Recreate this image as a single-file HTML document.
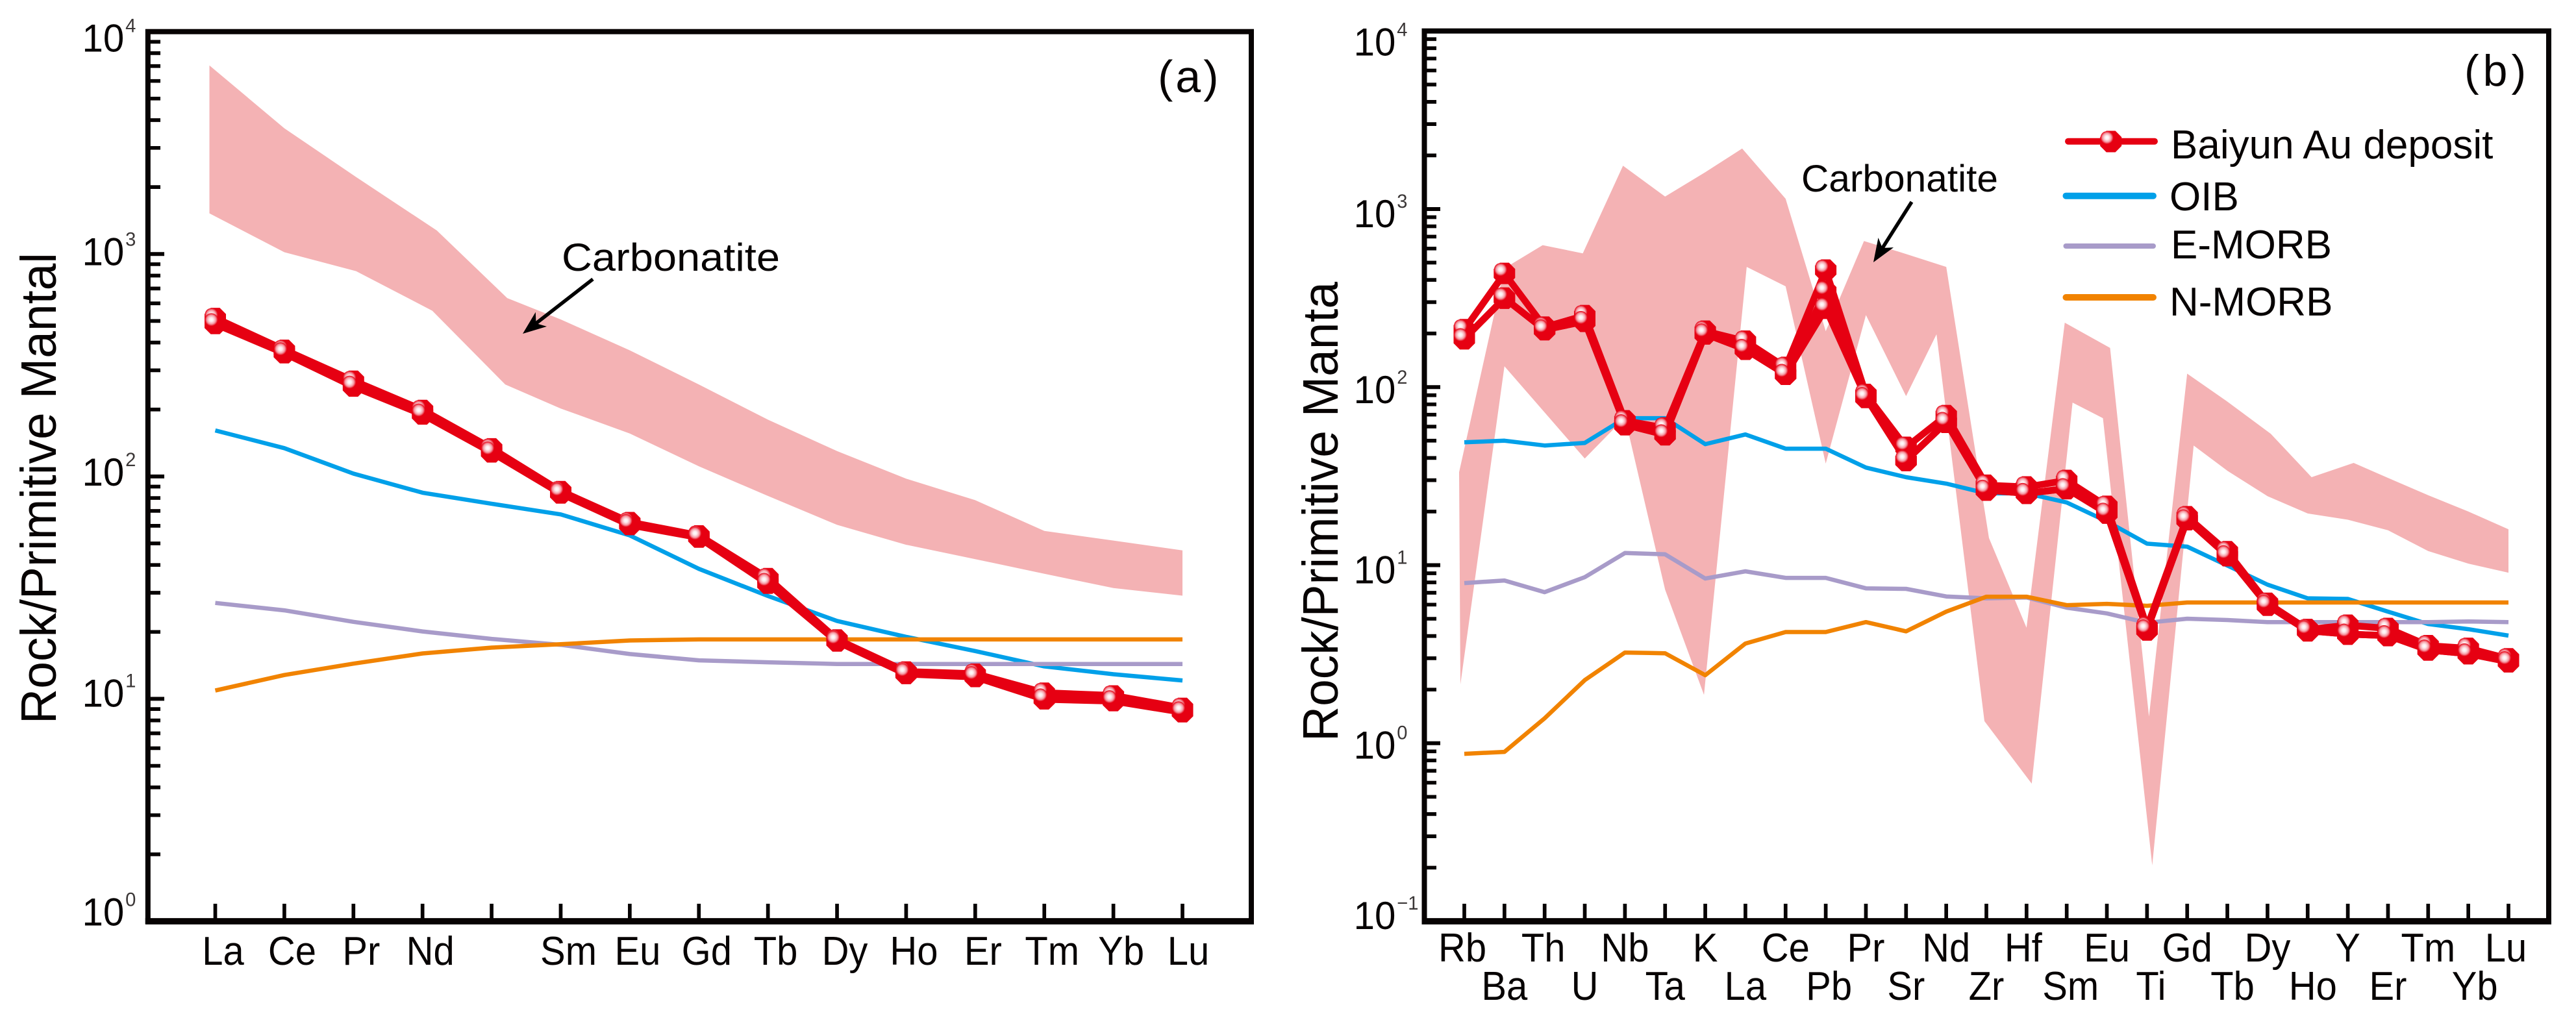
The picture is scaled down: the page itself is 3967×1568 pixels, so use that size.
<!DOCTYPE html>
<html lang="en">
<head>
<meta charset="utf-8">
<title>Rock / Primitive Mantle spider diagrams</title>
<style>
html,body{margin:0;padding:0;background:#fff;}
svg{display:block;}
text{font-family:"Liberation Sans",sans-serif;fill:#070303;}
</style>
</head>
<body>
<svg id="chart" xmlns="http://www.w3.org/2000/svg" width="3967" height="1568" viewBox="0 0 3967 1568">
<defs>
<radialGradient id="markerShine">
<stop offset="0" stop-color="#ffffff"/>
<stop offset="0.3" stop-color="#fdeaec"/>
<stop offset="0.68" stop-color="#f59aa4"/>
<stop offset="1" stop-color="#e60012"/>
</radialGradient>
</defs>
<g id="panel-a"></g>
<g id="panel-b"></g>
<g id="legend"></g>
</svg>
<script>
/* ---------- Panel (a) data ---------- */
const categoriesA = ["La","Ce","Pr","Nd","","Sm","Eu","Gd","Tb","Dy","Ho","Er","Tm","Yb","Lu"];
const baiyunA1 = [513,369,268,198,133,85.5,62,54,34.7,18.4,13.2,12.9,10.6,10.3,9.06];
const baiyunA2 = [487,360,255,191,129,84.3,60.8,53.4,33.1,18.2,13,12.6,10,9.82,8.75];
const oibA = [161,134,103,84.5,75.4,67.5,54.3,38.4,29,22.4,19,16.4,14,12.9,12.1];
const eMorbA = [27,25,22.2,20.1,18.6,17.5,15.9,14.9,14.6,14.35,14.35,14.35,14.35,14.35,14.35];
const nMorbA = [10.9,12.8,14.4,16,17,17.6,18.3,18.5,18.5,18.5,18.5,18.5,18.5,18.5,18.5];
const bandUpperA = [7050,3677,2220,1276,634,508,369,259,180,130,97.7,78.2,56.9,51.5,46.5];
const bandLowerA = [1524,1019,838,556,259,202,156,111,81.7,60.6,49.3,42.5,36.5,31.5,29.1];
const yExponentsA = [0,1,2,3,4];

/* ---------- Panel (b) data ---------- */
const categoriesB = ["Rb","Ba","Th","U","Nb","Ta","K","La","Ce","Pb","Pr","Sr","Nd","Zr","Hf","Sm","Eu","Ti","Gd","Tb","Dy","Ho","Y","Er","Tm","Yb","Lu"];
const baiyunB1 = [210,435,217,252,64.7,59,206,181,129,454,91,45.9,69.2,28.1,27.5,29.9,21.4,4.48,18.7,11.9,6.11,4.35,4.6,4.41,3.53,3.41,2.98];
const baiyunB2 = [187,316,210,234,61.5,54,199,163,118,277,87.5,38.7,63.4,26.4,25.3,26.9,19.6,4.33,18,11.3,5.96,4.28,4.1,4.02,3.34,3.18,2.87];
const baiyunB3 = [187,316,210,234,61.5,54,199,163,118,344,87.5,38.7,63.4,26.4,25.3,26.9,19.6,4.33,18,11.3,5.96,4.28,4.1,4.02,3.34,3.18,2.87];
const oibB = [49,50,47,48.6,66.9,66.9,47.8,54.2,45.1,45.1,35.3,31.2,28.7,25.3,25.3,22.5,17.6,13.2,12.7,9.95,7.77,6.51,6.46,5.48,4.67,4.37,4.02];
const eMorbB = [7.93,8.2,7.05,8.56,11.7,11.5,8.41,9.23,8.48,8.48,7.41,7.36,6.67,6.51,6.59,5.77,5.36,4.75,5,4.92,4.79,4.79,4.79,4.79,4.79,4.83,4.79];
const nMorbB = [0.872,0.894,1.38,2.26,3.23,3.2,2.41,3.63,4.21,4.21,4.79,4.25,5.48,6.65,6.65,5.96,6.06,5.91,6.17,6.17,6.17,6.17,6.17,6.17,6.17,6.17,6.17];
const bandUpperB = [33.3,465,627,564,1752,1176,1611,2187,1142,206,661,559,473,14.2,4.45,230,166,1.41,119,82.9,54.7,31.2,37.5,30.9,24.7,20,15.9];
const bandLowerB = [2.14,131,72,39.7,67.5,7.29,1.87,473,368,37.2,254,89,198,1.33,0.593,81.8,66.9,0.206,47,33.9,24.4,19.5,18,15.7,12,10.2,9.07];
const yExponentsB = [-1,0,1,2,3,4];

/* ---------- Legend entries ---------- */
const legendLabels = ["Baiyun Au deposit","OIB","E-MORB","N-MORB"];

/* ---------- Helpers ---------- */
const NS = "http://www.w3.org/2000/svg";
const RED = "#e60012", BLUE = "#00a0e9", PURPLE = "#a89bc9", ORANGE = "#f18300", PINK = "#f4b2b4", INK = "#070303";

function mk(parent, tag, attrs, name, text) {
  const el = document.createElementNS(NS, tag);
  for (const k in attrs) el.setAttribute(k, attrs[k]);
  
  
  if (text !== undefined) el.textContent = text;
  parent.appendChild(el);
  return el;
}
function pts(arr) { return arr.map(p => p[0].toFixed(1) + "," + p[1].toFixed(1)).join(" "); }

function octagon(parent, cx, cy, r, name) {
  const c = r * 0.42;
  const p = [[-c,-r],[c,-r],[r,-c],[r,c],[c,r],[-c,r],[-r,c],[-r,-c]].map(q => [cx + q[0], cy + q[1]]);
  mk(parent, "polygon", {points: pts(p), fill: RED}, name);
}
function shine(parent, cx, cy, name) {
  mk(parent, "circle", {cx: cx - 6, cy: cy - 6, r: 10, fill: "url(#markerShine)"}, name);
}

function arrow(parent, x1, y1, x2, y2, name) {
  const a = Math.atan2(y2 - y1, x2 - x1), L = 36, W = 14, N = 26;
  const ux = Math.cos(a), uy = Math.sin(a), nx = -uy, ny = ux;
  mk(parent, "line", {x1: x1, y1: y1, x2: x2 - ux * 20, y2: y2 - uy * 20, stroke: "#000", "stroke-width": 5.5}, name + "-shaft");
  mk(parent, "polygon", {points: pts([
    [x2, y2],
    [x2 - ux * L + nx * W, y2 - uy * L + ny * W],
    [x2 - ux * N, y2 - uy * N],
    [x2 - ux * L - nx * W, y2 - uy * L - ny * W]
  ]), fill: "#000"}, name + "-head");
}

function drawPanel(cfg) {
  const g = cfg.root;
  const n = cfg.categories.length;
  const x = i => cfg.x0 + (cfg.x1 - cfg.x0) * i / (n - 1);
  const decade = (cfg.bottom - cfg.top) / (cfg.expMax - cfg.expMin);
  const y = v => cfg.bottom - (Math.log10(v) - cfg.expMin) * decade;

  /* carbonatite envelope */
  const band = [];
  cfg.bandUpper.forEach((v, i) => band.push([x(i) + (cfg.upperShift[cfg.categories[i] || "blank"] || 0), y(v)]));
  for (let i = n - 1; i >= 0; i--) band.push([x(i) + (cfg.lowerShift[cfg.categories[i] || "blank"] || 0), y(cfg.bandLower[i])]);
  mk(g, "polygon", {points: pts(band), fill: PINK}, "carbonatite-envelope");

  /* reference model lines */
  [[cfg.oib, BLUE, "oib-line"], [cfg.eMorb, PURPLE, "e-morb-line"], [cfg.nMorb, ORANGE, "n-morb-line"]].forEach(s => {
    mk(g, "polyline", {points: pts(s[0].map((v, i) => [x(i), y(v)])), fill: "none", stroke: s[1], "stroke-width": 6.5, "stroke-linejoin": "round"}, s[2]);
  });

  /* sample lines and markers */
  cfg.samples.forEach((s, k) => {
    mk(g, "polyline", {points: pts(s.map((v, i) => [x(i), y(v)])), fill: "none", stroke: RED, "stroke-width": cfg.sampleStroke, "stroke-linejoin": "round"}, "baiyun-sample-line-" + (k + 1));
  });
  cfg.samples.forEach((s, k) => {
    s.forEach((v, i) => octagon(g, x(i), y(v), 16.5, "baiyun-marker-" + (cfg.categories[i] || "blank").toLowerCase()));
  });
  cfg.samples.forEach((s, k) => {
    s.forEach((v, i) => shine(g, x(i), y(v), "baiyun-marker-highlight-" + (cfg.categories[i] || "blank").toLowerCase()));
  });

  /* axes frame */
  mk(g, "rect", {x: cfg.left, y: cfg.top, width: cfg.right - cfg.left, height: cfg.bottom - cfg.top, fill: "none", stroke: INK, "stroke-width": 8}, "plot-frame");
  mk(g, "line", {x1: cfg.left - 4, x2: cfg.right + 4, y1: cfg.bottom, y2: cfg.bottom, stroke: INK, "stroke-width": 9.7}, "x-axis-line");

  /* y ticks */
  for (let e = cfg.expMin; e <= cfg.expMax; e++) {
    const yy = y(Math.pow(10, e));
    if (e < cfg.expMax && e > cfg.expMin) {
      mk(g, "line", {x1: cfg.left, x2: cfg.majorEnd, y1: yy, y2: yy, stroke: INK, "stroke-width": 6}, "y-major-tick");
    }
    if (e < cfg.expMax) {
      for (let m = 2; m <= 9; m++) {
        const ym = y(m * Math.pow(10, e));
        mk(g, "line", {x1: cfg.left, x2: cfg.minorEnd, y1: ym, y2: ym, stroke: INK, "stroke-width": 5.7}, "y-minor-tick");
      }
    }
  }
  cfg.yExponents.forEach(e => {
    const yy = y(Math.pow(10, e)) + cfg.labelDy[e];
    const t = mk(g, "text", {x: 0, y: 0, "font-size": 60, transform: "translate(" + cfg.labelX + " " + yy.toFixed(1) + ") scale(0.97 1)"}, "y-tick-label-" + e, "10");
    const sup = document.createElementNS(NS, "tspan");
    sup.setAttribute("font-size", "30");
    sup.setAttribute("dy", "-30");
    sup.setAttribute("dx", "2");
    sup.setAttribute("fill", "#3a3636");
    
    
    sup.textContent = String(e).replace("-", "\u2212");
    t.appendChild(sup);
  });

  /* x ticks and labels */
  cfg.categories.forEach((c, i) => {
    mk(g, "line", {x1: x(i), x2: x(i), y1: cfg.bottom, y2: cfg.bottom - 27, stroke: INK, "stroke-width": 5.7}, "x-tick");
    if (!c) return;
    const row = cfg.twoRows && i % 2 === 1 ? 1 : 0;
    const lx = x(i) + cfg.labelShiftAll + (cfg.labelShift[c] || 0);
    const ly = row ? cfg.row2 : cfg.row1;
    mk(g, "text", {
      x: 0, y: 0,
      "font-size": 62,
      "text-anchor": "middle",
      transform: "translate(" + lx.toFixed(1) + " " + ly + ") scale(0.935 1)"
    }, "x-tick-label-" + c.toLowerCase(), c);
  });

  /* y title */
  mk(g, "text", {x: 0, y: 0, "font-size": 77, textLength: cfg.titleLength, lengthAdjust: "spacingAndGlyphs", transform: "translate(" + cfg.titleX + " " + cfg.titleY + ") rotate(-90)"}, "y-axis-title", cfg.title);
}

drawPanel({
  root: document.getElementById("panel-a"),
  categories: categoriesA, samples: [baiyunA1, baiyunA2], oib: oibA, eMorb: eMorbA, nMorb: nMorbA,
  bandUpper: bandUpperA, bandLower: bandLowerA,
  upperShift: {La: -9, Pr: 4, Nd: 22, blank: 24},
  lowerShift: {La: -9, Pr: 4, Nd: 15, blank: 21},
  x0: 331.5, x1: 1821, left: 227.8, right: 1927, top: 48.7, bottom: 1419,
  expMin: 0, expMax: 4, yExponents: yExponentsA,
  majorEnd: 253, minorEnd: 247, labelX: 126.5,
  labelDy: {0: 6.5, 1: 12, 2: 14, 3: 17, 4: 31},
  labelShiftAll: 12, labelShift: {Lu: -3}, twoRows: false, row1: 1486, row2: 1486,
  sampleStroke: 12,
  title: "Rock/Primitive Mantal", titleX: 86, titleY: 1115, titleLength: 726
});

drawPanel({
  root: document.getElementById("panel-b"),
  categories: categoriesB, samples: [baiyunB1, baiyunB2, baiyunB3], oib: oibB, eMorb: eMorbB, nMorb: nMorbB,
  bandUpper: bandUpperB, bandLower: bandLowerB,
  upperShift: {Rb: -8, Th: -3, U: -3, Nb: -3, La: -5, Pr: -3, Zr: 4, Sm: -3, Eu: 5, Ti: 3, Dy: 5, Ho: 6, Y: 9},
  lowerShift: {Rb: -6, K: -2, La: 2, Nd: -15, Zr: -3, Hf: 8, Sm: 9, Eu: -6, Ti: 8, Gd: 10},
  x0: 2255, x1: 3863, left: 2193.5, right: 3925, top: 47.7, bottom: 1419,
  expMin: -1, expMax: 4, yExponents: yExponentsB,
  majorEnd: 2218, minorEnd: 2212, labelX: 2084.6,
  labelDy: {"-1": 12, 0: 24, 1: 28, 2: 25, 3: 28, 4: 38},
  labelShiftAll: 0, labelShift: {Rb: -3, Th: -2, Hf: -5, Pb: 5, Sm: 6, Ti: 6, Tb: 8, Ho: 8, Yb: 10, Lu: -4}, twoRows: true, row1: 1481, row2: 1540,
  sampleStroke: 10.5,
  title: "Rock/Primitive Manta", titleX: 2060, titleY: 1142, titleLength: 708
});

/* ---------- Annotations ---------- */
const pa = document.getElementById("panel-a");
mk(pa, "text", {x: 865, y: 417, "font-size": 60, textLength: 336, lengthAdjust: "spacingAndGlyphs"}, "carbonatite-label", "Carbonatite");
arrow(pa, 913, 430, 805, 514, "carbonatite-arrow");
mk(pa, "text", {x: 1783, y: 142, "font-size": 70, "letter-spacing": 4, fill: "#2a2626"}, "panel-label-a", "(a)");

const pb = document.getElementById("panel-b");
mk(pb, "text", {x: 2774, y: 295, "font-size": 58, textLength: 303, lengthAdjust: "spacingAndGlyphs"}, "carbonatite-label", "Carbonatite");
arrow(pb, 2944, 311, 2885, 404, "carbonatite-arrow");
mk(pb, "text", {x: 3795, y: 132, "font-size": 68, "letter-spacing": 6, fill: "#2a2626"}, "panel-label-b", "(b)");

/* ---------- Legend ---------- */
const lg = document.getElementById("legend");
const legendColors = [RED, BLUE, PURPLE, ORANGE];
const legendLineY = [217.7, 301.7, 379, 458];
const legendLineStroke = [10, 10, 8, 10];
const legendTextY = [244, 324, 398, 486];
const legendTextX = [3343, 3341, 3343, 3341];
legendLabels.forEach((label, i) => {
  mk(lg, "line", {x1: i === 0 ? 3185 : 3181.5, x2: i === 0 ? 3318 : 3316, y1: legendLineY[i], y2: legendLineY[i], stroke: legendColors[i], "stroke-width": legendLineStroke[i], "stroke-linecap": "round"}, "legend-line-" + label.toLowerCase().replace(/\s+/g, "-"));
  mk(lg, "text", {x: legendTextX[i], y: legendTextY[i], "font-size": 62}, "legend-label-" + label.toLowerCase().replace(/\s+/g, "-"), label);
});
octagon(lg, 3250.7, 218, 16.5, "legend-marker");
shine(lg, 3250.7, 218, "legend-marker-highlight");
</script>
</body>
</html>
